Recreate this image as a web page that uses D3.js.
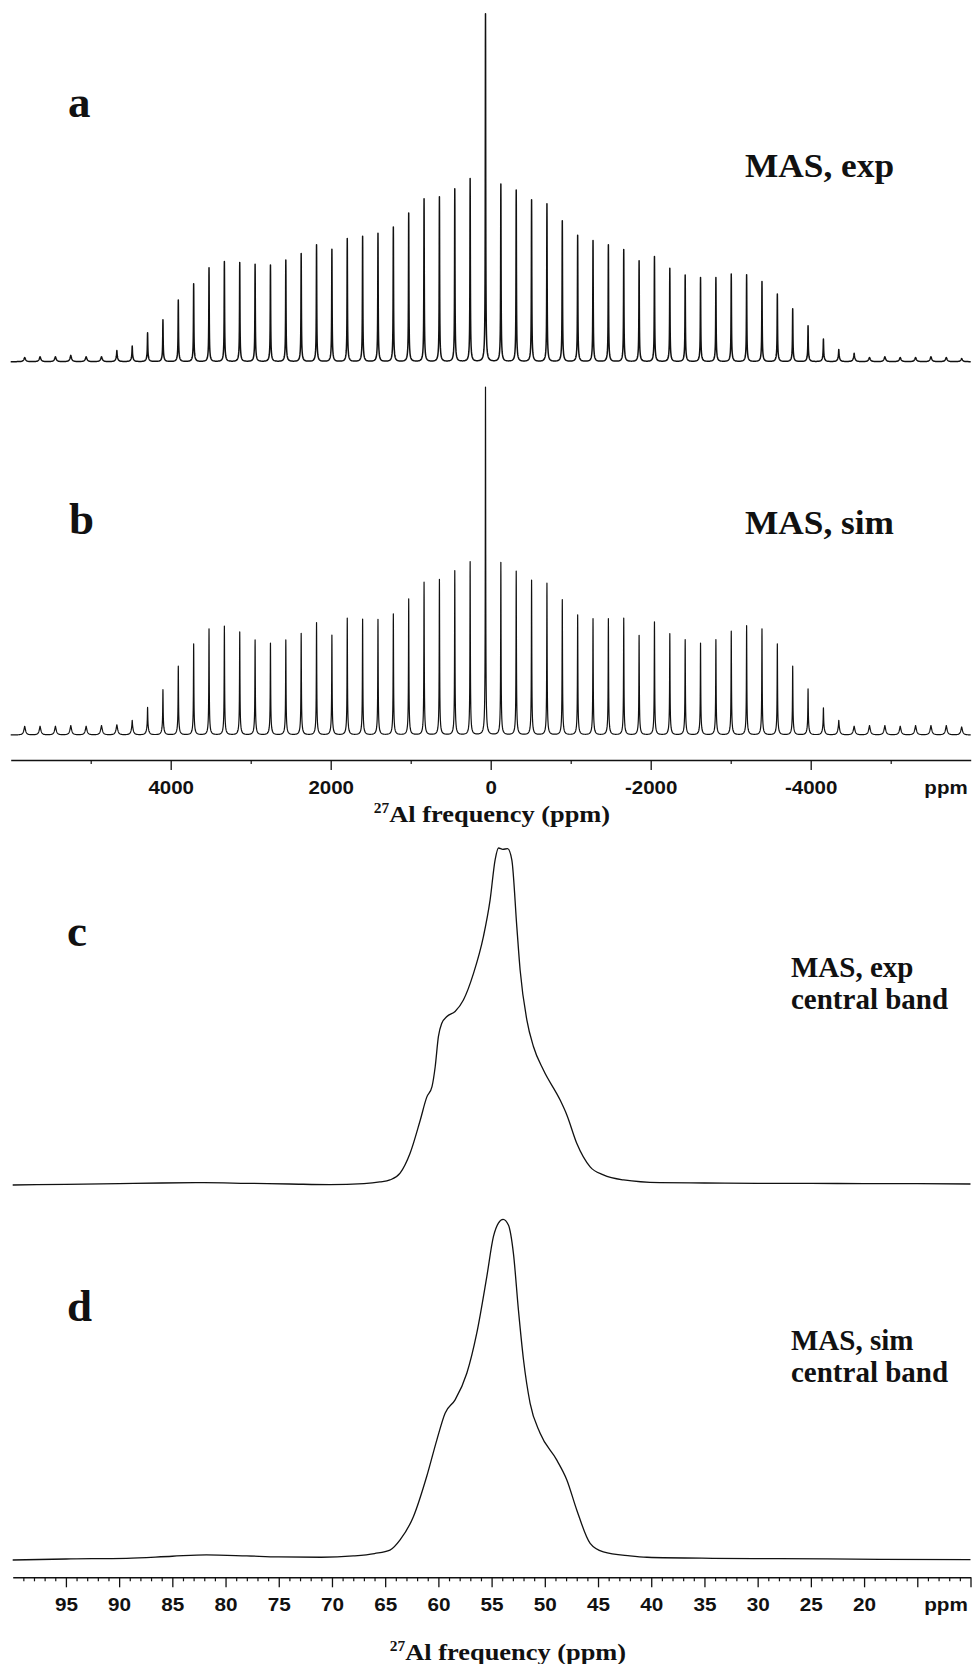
<!DOCTYPE html>
<html><head><meta charset="utf-8">
<script src="https://cdn.jsdelivr.net/npm/d3@7"></script>
<style>body{margin:0;background:#fff}svg{display:block}</style>
</head><body><div id="chart"></div>
<script>
// ---------------- DATA ----------------
// spinning-sideband pattern (heights relative to centre band = 100)
const centerBandPpm = 65;
const sidebandSpacingPpm = 192;
const expCenter = 100;
// sidebands n = 1..30 on the high-ppm (left) side
const expHigh = [52.6,49.7,47.4,46.8,42.7,38.7,36.9,36.0,35.4,32.3,33.6,31.1,29.2,27.8,28.0,28.5,28.8,27.0,22.4,17.7,12.0,8.3,4.5,3.2,1.4,1.4,1.8,1.4,1.4,1.2];
// sidebands n = 1..31 on the low-ppm (right) side
const expLow = [51.0,49.3,46.5,45.4,40.5,36.3,34.8,33.6,32.2,29.0,30.2,26.8,24.9,24.2,24.2,25.2,25.0,23.0,19.4,15.2,10.3,6.5,3.5,2.4,1.2,1.4,1.2,1.2,1.4,1.2,0.9];
const simCenter = 100;
const simHigh = [49.8,47.2,44.7,43.9,39.1,34.8,33.2,33.3,33.6,28.7,32.3,29.2,27.3,26.4,27.3,29.6,31.3,30.5,26.2,19.8,13.0,7.9,4.2,2.9,2.7,2.5,2.7,2.5,2.5,2.5];
const simLow = [49.6,47.1,44.5,43.6,38.9,34.5,33.4,33.4,33.6,28.6,32.5,29.1,27.4,26.4,27.4,29.8,31.4,30.5,26.2,19.8,13.2,7.8,4.2,2.5,2.7,2.7,2.5,2.7,2.7,2.7,2.3];

// central band (panel c, experimental)
const cbExpPpm = [100,95,90,86,82,78,74,70.2,67,65.5,64.55,63.6,62.66,61.7,61.1,60.6,60.3,60.0,59.68,59.2,58.43,57.65,56.7,55.77,55.14,54.67,54.35,53.95,53.5,53.1,52.63,52.32,51.69,51.07,50.13,48.56,47.93,47.0,45.74,44.5,42.6,39.2,35,30,25,20,15,10];
const cbExpInt = [0,0.2,0.4,0.6,0.7,0.5,0.3,0.1,0.4,0.9,1.5,3.5,9.4,19.3,26,29.2,35.1,44,48,50,51.5,54.9,62.8,73.7,84.6,96.5,100,99.6,99.8,96.5,76.6,63.8,49,41.1,34.1,25.2,20.8,12.4,5.4,3,1.5,0.7,0.6,0.5,0.5,0.4,0.4,0.3];
// central band (panel d, simulated)
const cbSimPpm = [100,95,89.3,85,81.8,78,75,71,68,66,64.55,63.6,62.35,61.1,60.15,59.37,58.43,57.33,56.4,55.45,54.83,54.36,53.92,53.42,52.95,52.48,52.0,51.38,50.44,48.87,47.93,47.0,45.74,44.5,42.0,40.4,34.2,28,18.5,10];
const cbSimInt = [0,0.3,0.5,1.1,1.5,1.2,0.9,0.8,1.2,1.9,2.9,5.9,12.7,24.5,35.2,43.1,47,54.8,66.5,83.2,94.9,98.9,100,98.3,90,73.4,58.7,46,37.2,29.3,23.5,14.7,4.9,2.4,1.2,0.8,0.5,0.4,0.2,0.1];

// axes
const topMajorTicks = [4000,2000,0,-2000,-4000];
const topMinorTicks = [5000,3000,1000,-1000,-3000,-5000];
const bottomMajorTicks = [95,90,85,80,75,70,65,60,55,50,45,40,35,30,25,20,15,10];
const bottomLabelTicks = [95,90,85,80,75,70,65,60,55,50,45,40,35,30,25,20];
const unitLabel = "ppm";
const axisTitleSup = "27";
const axisTitleMain = "Al frequency (ppm)";
const panelLabels = ["a","b","c","d"];
const panelTexts = [["MAS, exp"],["MAS, sim"],["MAS, exp","central band"],["MAS, sim","central band"]];

// ---------------- DRAWING ----------------
const W = 973, H = 1664;
const svg = d3.select("#chart").append("svg").attr("width", W).attr("height", H);
const serif = "'Liberation Serif','Times New Roman',Times,serif";
const sans = "'Liberation Sans',Arial,Helvetica,sans-serif";
const ink = "#111";

const xTop = d3.scaleLinear().domain([6000,-6000]).range([10.7,970.7]);
const xBot = d3.scaleLinear().domain([100,10]).range([12.7,970.5]);
const yA = d3.scaleLinear().domain([0,100]).range([361.7,14]);
const yB = d3.scaleLinear().domain([0,100]).range([735,387.3]);
const yC = d3.scaleLinear().domain([0,100]).range([1185,848]);
const yD = d3.scaleLinear().domain([0,100]).range([1560,1219.3]);

function buildSpectrum(center, high, low, pedA, pedB) {
  const peaks = [{pos: centerBandPpm, h: center}];
  high.forEach((h,i) => peaks.push({pos: centerBandPpm + (i+1)*sidebandSpacingPpm, h}));
  low.forEach((h,i) => peaks.push({pos: centerBandPpm - (i+1)*sidebandSpacingPpm, h}));
  const xs = new Set();
  for (let p = -6000; p <= 6000; p += 8) xs.add(p);
  const offs = [0,1,2,3,4,5,6,8,10,12,16,20,24,32,40,48,64,80];
  peaks.forEach(pk => offs.forEach(o => { xs.add(pk.pos+o); xs.add(pk.pos-o); }));
  const grid = Array.from(xs).filter(p => p >= -6000 && p <= 6000).sort((a,b) => b-a);
  const w1 = 3, w2 = 14;
  return grid.map(p => {
    let v = 0;
    for (const pk of peaks) {
      const d = p - pk.pos;
      if (Math.abs(d) > 400) continue;
      const ped = Math.min(0.85*pk.h, pedA + pedB*pk.h);
      v += (pk.h - ped) / (1 + (d/w1)*(d/w1)) + ped / (1 + (d/w2)*(d/w2));
    }
    return [p, v];
  });
}

const specA = buildSpectrum(expCenter, expHigh, expLow, 1.4, 0.025);
const specB = buildSpectrum(simCenter, simHigh, simLow, 2.4, 0.018);

svg.append("path").datum(specA)
  .attr("d", d3.line().x(d => xTop(d[0])).y(d => yA(d[1])))
  .attr("fill","none").attr("stroke",ink).attr("stroke-width",1.5).attr("stroke-linejoin","round");
svg.append("path").datum(specB)
  .attr("d", d3.line().x(d => xTop(d[0])).y(d => yB(d[1])))
  .attr("fill","none").attr("stroke",ink).attr("stroke-width",1.2).attr("stroke-linejoin","round");

const cbLine = (ys) => d3.line().x(d => xBot(d[0])).y(d => ys(d[1])).curve(d3.curveMonotoneX);
svg.append("path").datum(cbExpPpm.map((p,i) => [p, cbExpInt[i]]))
  .attr("d", cbLine(yC)).attr("fill","none").attr("stroke",ink).attr("stroke-width",1.3);
svg.append("path").datum(cbSimPpm.map((p,i) => [p, cbSimInt[i]]))
  .attr("d", cbLine(yD)).attr("fill","none").attr("stroke",ink).attr("stroke-width",1.3);

// axes
function drawAxis(scale, y, major, labels, minor, sx) {
  const g = svg.append("g").attr("transform", `translate(0,${y})`);
  g.append("g").call(d3.axisBottom(scale).tickValues(minor).tickSize(4).tickSizeOuter(0).tickFormat(""))
    .call(s => s.select(".domain").attr("stroke",ink).attr("stroke-width",1.6))
    .call(s => s.selectAll(".tick line").attr("stroke",ink).attr("stroke-width",1.2));
  g.append("g").call(d3.axisBottom(scale).tickValues(major).tickSize(10).tickSizeOuter(0)
      .tickFormat(d => labels.includes(d) ? String(d) : ""))
    .call(s => s.select(".domain").remove())
    .call(s => s.selectAll(".tick line").attr("stroke",ink).attr("stroke-width",1.3))
    .call(s => s.selectAll(".tick text").attr("fill",ink).attr("font-family",sans)
      .attr("font-weight","bold").attr("font-size",sx.fs).attr("y",0).attr("dy",0)
      .attr("transform",`translate(0,${sx.off}) scale(${sx.k},1)`));
  g.append("text").attr("transform",`translate(946,${sx.off}) scale(${sx.k},1)`)
    .attr("text-anchor","middle").attr("font-family",sans).attr("font-weight","bold")
    .attr("font-size",sx.fs).attr("fill",ink).text(unitLabel);
}
drawAxis(xTop, 760, topMajorTicks, topMajorTicks, topMinorTicks, {fs:19, k:1.08, off:34});
drawAxis(xBot, 1577.3, bottomMajorTicks, bottomLabelTicks, d3.range(99,10,-1).filter(v => v%5 !== 0), {fs:18, k:1.15, off:33.4});

function axisTitle(cx, y) {
  const t = svg.append("text").attr("transform",`translate(${cx},${y}) scale(1.1,1)`)
    .attr("text-anchor","middle").attr("font-family",serif).attr("font-weight","bold")
    .attr("font-size",24).attr("fill",ink);
  t.append("tspan").attr("font-size",14).attr("dy",-9).text(axisTitleSup);
  t.append("tspan").attr("dy",9).text(axisTitleMain);
}
axisTitle(492, 821.7);
axisTitle(508, 1659.5);

// panel letters
const letterPos = [[68,116.7],[69,534],[67,946],[67,1321]];
panelLabels.forEach((l,i) => {
  svg.append("text").attr("x",letterPos[i][0]).attr("y",letterPos[i][1])
    .attr("font-family",serif).attr("font-weight","bold").attr("font-size",45).attr("fill",ink).text(l);
});
// panel descriptions
const descPos = [[745,176.7,33,1.07],[745,534,33,1.07],[791,977,29,1.0],[791,1350,29,1.0]];
panelTexts.forEach((lines,i) => {
  const [x0,y0,fs,k] = descPos[i];
  lines.forEach((s,j) => {
    svg.append("text").attr("transform",`translate(${x0},${y0+j*32}) scale(${k},1)`)
      .attr("font-family",serif).attr("font-weight","bold").attr("font-size",fs).attr("fill",ink).text(s);
  });
});
</script>
</body></html>
